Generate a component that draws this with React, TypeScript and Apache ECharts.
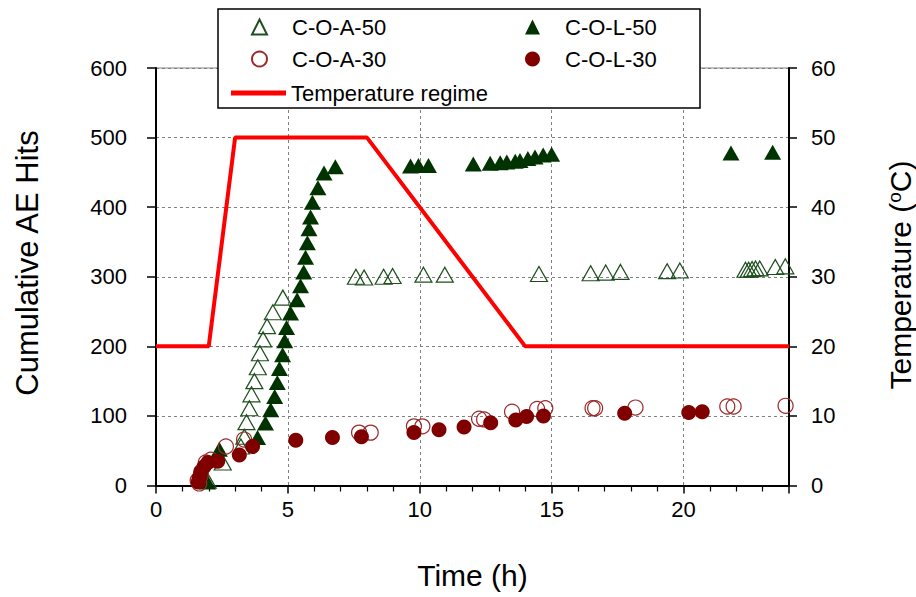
import React, { useEffect, useRef } from 'react';
import * as echarts from 'echarts';

const FONT = '"Liberation Sans", Arial, Helvetica, sans-serif';

// [time (h), cumulative AE hits]
const coA50: [number, number][] = [
  [1.96, 7], [2.53, 33], [3.22, 56], [3.35, 70], [3.43, 91], [3.54, 111], [3.62, 131],
  [3.73, 150], [3.86, 170], [3.94, 190], [4.06, 210], [4.21, 229], [4.43, 249], [4.81, 270],
  [7.58, 300], [7.89, 299], [8.63, 300], [8.97, 301], [10.14, 303], [10.95, 303], [14.52, 304],
  [16.48, 305], [17.05, 306], [17.61, 307], [19.38, 308], [19.86, 309], [22.35, 310],
  [22.47, 310], [22.6, 311], [22.73, 312], [22.89, 312], [23.48, 314], [23.86, 315],
];

const coL50: [number, number][] = [
  [1.95, 5], [2.4, 52], [3.85, 69], [4.15, 90], [4.35, 109], [4.5, 128], [4.6, 148],
  [4.68, 168], [4.8, 188], [4.88, 208], [4.95, 227], [5.1, 248], [5.35, 267], [5.48, 287],
  [5.6, 307], [5.67, 328], [5.74, 349], [5.8, 369], [5.86, 386], [5.93, 407], [6.14, 428],
  [6.37, 449], [6.8, 458], [9.65, 459], [9.95, 460], [10.33, 460], [12.03, 462], [12.67, 463],
  [13.05, 464], [13.3, 465], [13.62, 466], [13.8, 467], [14.1, 470], [14.37, 472],
  [14.68, 475], [15.0, 476], [21.8, 478], [23.38, 479],
];

const coA30: [number, number][] = [
  [1.58, 7], [1.64, 3], [1.7, 15], [1.89, 33], [2.08, 37], [2.65, 56], [3.34, 66],
  [7.7, 76], [8.14, 76], [9.78, 85], [10.1, 85], [12.25, 96], [12.44, 95], [13.5, 106],
  [14.45, 110], [14.76, 111], [16.55, 111], [16.65, 111], [18.18, 112], [21.66, 113.5],
  [21.9, 113.5], [23.87, 114.5],
];

const coL30: [number, number][] = [
  [1.6, 5], [1.64, 11], [1.7, 20], [1.82, 27], [1.97, 33], [2.34, 35], [3.16, 44],
  [3.66, 56], [5.3, 65], [6.69, 69], [7.79, 70], [9.78, 76], [10.73, 80], [11.68, 84],
  [12.69, 90], [13.64, 94], [14.05, 99], [14.69, 100], [17.77, 104], [20.2, 105], [20.71, 106],
];

// [time (h), temperature (°C)]
const temperature: [number, number][] = [
  [0, 20], [2, 20], [3, 50], [8, 50], [14, 20], [24, 20],
];

const xRange = { min: 0, max: 24, interval: 5 };
const hitsRange = { min: 0, max: 600, interval: 100 };
const tempRange = { min: 0, max: 60, interval: 10 };

const symbolLegend = (name: string, left: number, top: number) => ({
  show: true,
  data: [name],
  left,
  top,
  orient: 'horizontal',
  itemWidth: 15,
  itemHeight: 15,
  itemGap: 0,
  padding: 0,
  z: 60,
  selectedMode: false,
  textStyle: {
    fontFamily: FONT, fontSize: 22, color: '#000', lineHeight: 24,
    padding: [0, 0, 0, 20],
  },
});

export default function App() {
  const ref = useRef<HTMLDivElement>(null);

  useEffect(() => {
    const chart = echarts.init(ref.current!, null, { renderer: 'svg' });
    const option: any = {
      animation: false,
      backgroundColor: '#fff',
      textStyle: { fontFamily: FONT },
      grid: {
        left: 156,
        right: 127,
        top: 68,
        bottom: 111.5,
        show: true,
        borderColor: '#808080',
        borderWidth: 1,
        backgroundColor: 'transparent',
      },
      legend: [
        symbolLegend('C-O-A-50', 251, 15),
        symbolLegend('C-O-L-50', 525, 15),
        symbolLegend('C-O-A-30', 251, 47),
        symbolLegend('C-O-L-30', 525, 47),
        {
          show: true,
          data: [{ name: 'Temperature regime', icon: 'rect' }],
          left: 231,
          top: 81,
          orient: 'horizontal',
          itemWidth: 55,
          itemHeight: 5,
          itemGap: 0,
          padding: 0,
          z: 60,
          selectedMode: false,
          textStyle: { fontFamily: FONT, fontSize: 22, color: '#000', lineHeight: 24 },
        },
      ],
      graphic: [
        {
          type: 'rect',
          z: 50,
          shape: { x: 218, y: 9, width: 482, height: 99 },
          style: { fill: '#fff', stroke: '#000', lineWidth: 1.5 },
        },
        {
          type: 'text',
          z: 50,
          x: 27,
          y: 263,
          rotation: Math.PI / 2,
          style: {
            text: 'Cumulative AE Hits',
            font: `31px ${FONT}`,
            fill: '#000',
            textAlign: 'center',
            textVerticalAlign: 'middle',
          },
        },
        {
          type: 'text',
          z: 50,
          x: 899,
          y: 275,
          rotation: Math.PI / 2,
          style: {
            text: '{m|Temperature (}{s|o}{m|C)}',
            fill: '#000',
            textAlign: 'center',
            textVerticalAlign: 'middle',
            rich: {
              m: { fontFamily: FONT, fontSize: 30, lineHeight: 32, verticalAlign: 'bottom', fill: '#000' },
              s: { fontFamily: FONT, fontSize: 19, lineHeight: 32, verticalAlign: 'top', fill: '#000', padding: [2, 0, 0, 0] },
            },
          },
        },
      ],
      xAxis: {
        type: 'value',
        min: xRange.min,
        max: xRange.max,
        interval: xRange.interval,
        name: 'Time (h)',
        nameLocation: 'middle',
        nameGap: 75,
        nameTextStyle: { fontFamily: FONT, fontSize: 30, color: '#000' },
        axisLine: { show: true, onZero: false, lineStyle: { color: '#000', width: 2 } },
        axisTick: { show: true, inside: false, length: 8, lineStyle: { color: '#000', width: 1.5 } },
        minorTick: { show: true, splitNumber: 5, length: 6, lineStyle: { color: '#000', width: 1.2 } },
        axisLabel: { fontFamily: FONT, fontSize: 22, color: '#000', margin: 13, showMaxLabel: false },
        splitLine: { show: true, lineStyle: { color: '#808080', type: [3, 3], width: 1 } },
      },
      yAxis: [
        {
          type: 'value',
          min: hitsRange.min,
          max: hitsRange.max,
          interval: hitsRange.interval,
          position: 'left',
          axisLine: { show: true, onZero: false, lineStyle: { color: '#000', width: 2 } },
          axisTick: { show: true, inside: false, length: 9, lineStyle: { color: '#000', width: 1.5 } },
          axisLabel: { fontFamily: FONT, fontSize: 22, color: '#000', margin: 29 },
          splitLine: { show: true, lineStyle: { color: '#808080', type: [3, 3], width: 1 } },
        },
        {
          type: 'value',
          min: tempRange.min,
          max: tempRange.max,
          interval: tempRange.interval,
          position: 'right',
          axisLine: { show: true, onZero: false, lineStyle: { color: '#000', width: 2 } },
          axisTick: { show: true, inside: false, length: 8, lineStyle: { color: '#000', width: 1.5 } },
          axisLabel: { fontFamily: FONT, fontSize: 22, color: '#000', margin: 22 },
          splitLine: { show: false },
        },
      ],
      series: [
        {
          name: 'C-O-A-50',
          type: 'scatter',
          data: coA50,
          symbol: 'triangle',
          symbolSize: [17, 15],
          itemStyle: { color: 'rgba(255,255,255,0)', borderColor: '#1f4f1f', borderWidth: 1.2, opacity: 1 },
          z: 3,
        },
        {
          name: 'C-O-L-50',
          type: 'scatter',
          data: coL50,
          symbol: 'triangle',
          symbolSize: [17, 15],
          itemStyle: { color: '#003300', opacity: 1 },
          z: 3,
        },
        {
          name: 'C-O-A-30',
          type: 'scatter',
          data: coA30,
          symbol: 'circle',
          symbolSize: 15,
          itemStyle: { color: 'rgba(255,255,255,0)', borderColor: '#9b2a2a', borderWidth: 1.2, opacity: 1 },
          z: 3,
        },
        {
          name: 'C-O-L-30',
          type: 'scatter',
          data: coL30,
          symbol: 'circle',
          symbolSize: 15,
          itemStyle: { color: '#800000', opacity: 1 },
          z: 3,
        },
        {
          name: 'Temperature regime',
          type: 'line',
          yAxisIndex: 1,
          data: temperature,
          symbol: 'none',
          showSymbol: false,
          lineStyle: { color: '#ff0000', width: 4 },
          itemStyle: { color: '#ff0000' },
          z: 4,
        },
      ],
    };
    chart.setOption(option);
    return () => chart.dispose();
  }, []);

  return (
    <div
      ref={ref}
      style={{ position: 'absolute', left: 0, top: 0, width: 916, height: 597 }}
    />
  );
}
